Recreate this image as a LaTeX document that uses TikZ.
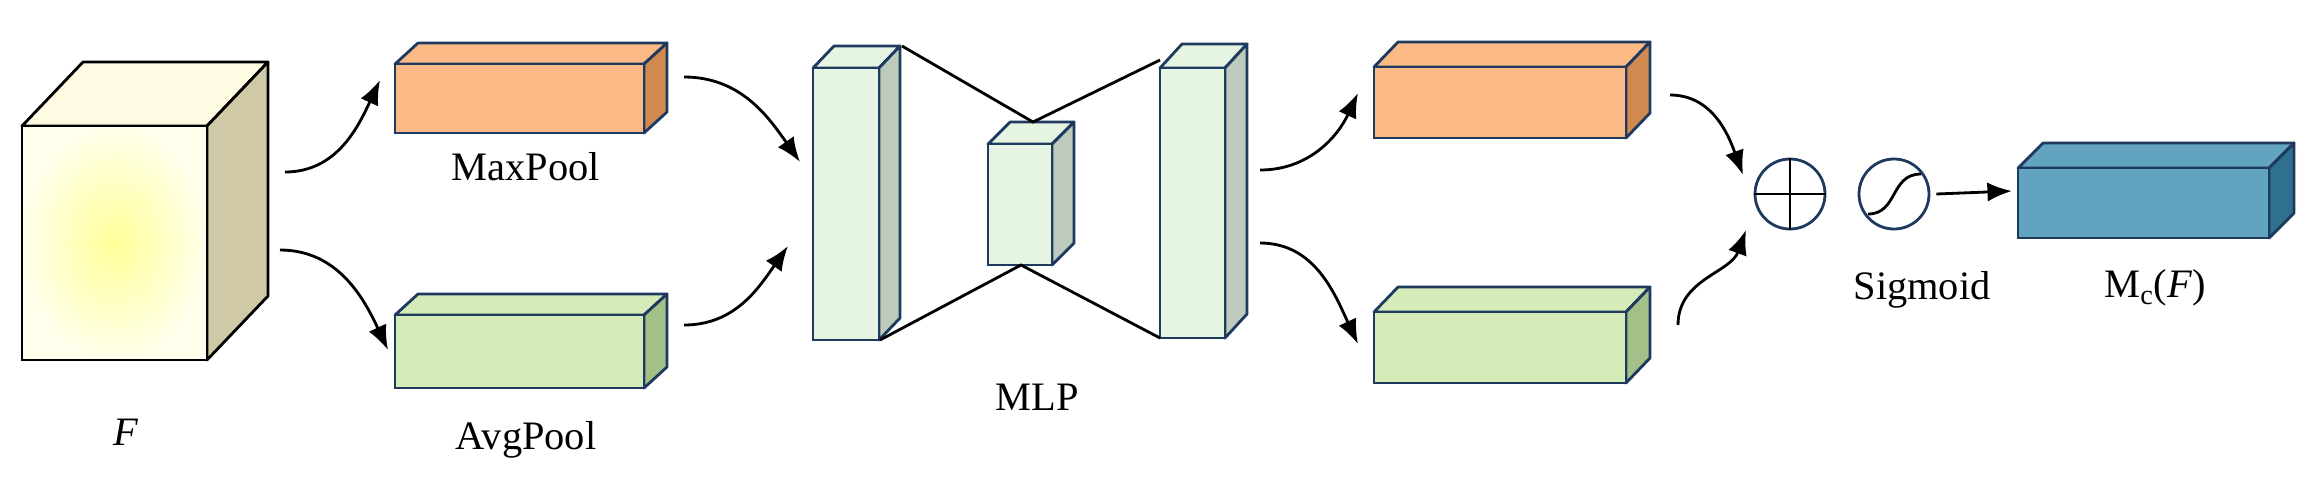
\documentclass[tikz,border=0pt]{standalone}
\usepackage{fontspec}
\setmainfont{Liberation Serif}
\usetikzlibrary{arrows.meta}
\definecolor{navy}{HTML}{1F3A5F}
\definecolor{orF}{HTML}{F9A862}\definecolor{orT}{HTML}{FBBA85}\definecolor{orS}{HTML}{D08A50}
\definecolor{grF}{HTML}{C8E6A0}\definecolor{grT}{HTML}{D6ECB8}\definecolor{grS}{HTML}{A2C088}
\definecolor{mlF}{HTML}{E6F4E2}\definecolor{mlS}{HTML}{BECBBC}
\definecolor{blF}{HTML}{3D8FB5}\definecolor{blT}{HTML}{62A4C0}\definecolor{blS}{HTML}{2E708E}
\definecolor{yeT}{HTML}{FFFBE3}\definecolor{yeS}{HTML}{CFC9A8}
\newcommand\cub[9][navy]{%
 \draw[#1,line width=1.6pt,line join=round,fill=#8] (#2,#3)--({#2+#5},{#3-#6})--({#2+#4+#5},{#3-#6})--({#2+#4},#3)--cycle;
 \draw[#1,line width=1.6pt,line join=round,fill=#9] ({#2+#4},#3)--({#2+#4+#5},{#3-#6})--({#2+#4+#5},{#3+#7-#6})--({#2+#4},{#3+#7})--cycle;
 \draw[#1,line width=1.6pt,fill=#8] (#2,#3) rectangle ({#2+#4},{#3+#7});}
\begin{document}
\begin{tikzpicture}[x=0.02cm,y=-0.02cm,
 arr/.style={-{Latex[length=14pt,width=11pt]},line width=1.6pt,black},
 lbl/.style={font=\fontsize{23}{26}\selectfont,inner sep=0pt},
 ln/.style={line width=1.6pt,black}]
\useasboundingbox (0,0) rectangle (2322,478);
% F cube
\cub[black]{22}{126}{185}{61}{64}{234}{yeT}{yeS}
\shade[inner color=yellow!40!white,outer color=yellow!8!white] (23,127) rectangle (206,359);
\draw[black,line width=1.6pt] (22,126) rectangle (207,360);
\node[lbl] (F) at (126,432) {\textit{F}};
% pools
\cub{395}{64}{249}{23}{21}{69}{orT}{orS}
\node[lbl] (maxl) at (526,167) {MaxPool};
\cub{395}{315}{249}{23}{21}{73}{grT}{grS}
\node[lbl] (avgl) at (526,440) {AvgPool};
% MLP
\cub{813}{68}{66}{21}{22}{272}{mlF}{mlS}
\cub{988}{144}{64}{22}{22}{121}{mlF}{mlS}
\cub{1160}{68}{65}{22}{24}{270}{mlF}{mlS}
\coordinate (l1) at (902,46); \coordinate (l2) at (880,340);
\coordinate (s1) at (1033,122); \coordinate (s2) at (1021,265);
\coordinate (r1) at (1160,60); \coordinate (r2) at (1160,338);
\draw[ln] (l1)--(s1)--(r1); \draw[ln] (l2)--(s2)--(r2);
\node[lbl] (mlp) at (1037,397) {MLP};
% right boxes
\cub{1374}{67}{252}{24}{25}{71}{orT}{orS}
\cub{1374}{312}{252}{24}{25}{71}{grT}{grS}
% operators
\node[draw=navy,line width=1.6pt,circle,minimum size=70*0.02cm,inner sep=0pt] (plus) at (1790,194) {};
\draw[ln] (plus.west)--(plus.east) (plus.north)--(plus.south);
\node[draw=navy,line width=1.6pt,circle,minimum size=70*0.02cm,inner sep=0pt] (sig) at (1894,194) {};
\draw[ln] (1868,214) .. controls (1898,214) and (1890,174) .. (1921,174);
\node[lbl] (sigl) at (1922,290) {Sigmoid};
\cub{2018}{168}{251}{25}{25}{70}{blT}{blS}
\node[lbl] (mc) at (2155,288) {M\textsubscript{c}(\textit{F})};
\coordinate (bl) at (2012,191);
\draw[arr] (sig.east)++(6,0) coordinate (se) (se)--(bl);
% curved arrows
\coordinate (a1) at (285,172); \coordinate (b1) at (380,80);
\coordinate (a2) at (280,250); \coordinate (b2) at (388,350);
\coordinate (a3) at (684,77); \coordinate (b3) at (800,162);
\coordinate (a4) at (684,325); \coordinate (b4) at (788,246);
\coordinate (a5) at (1260,170); \coordinate (b5) at (1358,93);
\coordinate (a6) at (1260,243); \coordinate (b6) at (1358,344);
\coordinate (a7) at (1670,95); \coordinate (b7) at (1743,175);
\coordinate (a8) at (1678,325); \coordinate (b8) at (1746,230);
\draw[arr] (a1) to[out=0,in=-115] (b1);
\draw[arr] (a2) to[out=0,in=115] (b2);
\draw[arr] (a3) to[out=0,in=125] (b3);
\draw[arr] (a4) to[out=0,in=-125] (b4);
\draw[arr] (a5) to[out=0,in=-115] (b5);
\draw[arr] (a6) to[out=0,in=115] (b6);
\draw[arr] (a7) to[out=0,in=110] (b7);
\draw[arr] (a8) to[out=90,in=-110] (b8);
\end{tikzpicture}
\end{document}
